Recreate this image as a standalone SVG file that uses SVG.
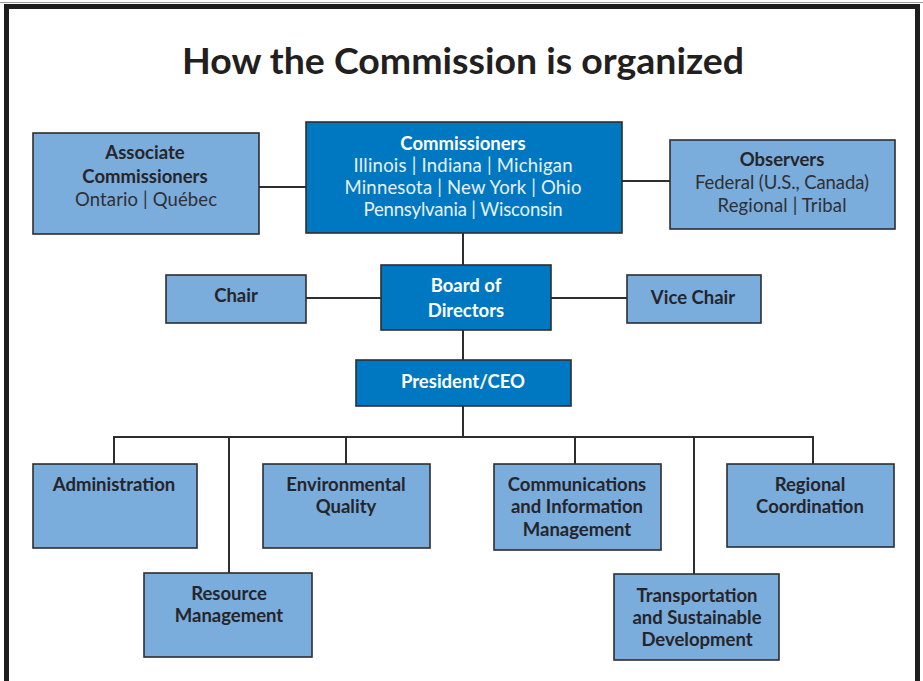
<svg xmlns="http://www.w3.org/2000/svg" width="923" height="681" viewBox="0 0 923 681">
<style>
.lt{fill:#7aacdc;stroke:#2e2e30;stroke-width:1.6}
.dk{fill:#0078c1;stroke:#2e2e30;stroke-width:1.6}
.b{font-family:Lato,"Open Sans",sans-serif;font-weight:bold;font-size:18.5px;fill:#26252a;text-anchor:middle}
.bw{font-family:Lato,"Open Sans",sans-serif;font-weight:bold;font-size:18.5px;fill:#ffffff;text-anchor:middle}
.r{font-family:Lato,"Open Sans",sans-serif;font-size:18.5px;fill:#2f3034;text-anchor:middle}
.rw{font-family:Lato,"Open Sans",sans-serif;font-size:18.5px;fill:#e6f1fa;text-anchor:middle}
.c{stroke:#2e2e30;stroke-width:2;fill:none}
</style>
<rect width="923" height="681" fill="#ffffff"/>
<path d="M6.5 690 V6.5 H917.5 V690" fill="none" stroke="#1e1e1e" stroke-width="5"/>
<line x1="0" y1="2.5" x2="923" y2="2.5" stroke="#9a9a9a" stroke-width="1"/>
<text x="463" y="74" font-family="Lato,'Open Sans',sans-serif" font-weight="bold" font-size="36" fill="#231f20" text-anchor="middle" textLength="562" lengthAdjust="spacingAndGlyphs">How the Commission is organized</text>
<g id="connectors">
<line class="c" x1="259" y1="187" x2="306" y2="187"/>
<line class="c" x1="622" y1="181" x2="670" y2="181"/>
<line class="c" x1="463" y1="233" x2="463" y2="265"/>
<line class="c" x1="306" y1="298" x2="381" y2="298"/>
<line class="c" x1="551" y1="298" x2="627" y2="298"/>
<line class="c" x1="463" y1="330" x2="463" y2="360"/>
<line class="c" x1="463" y1="406" x2="463" y2="437"/>
<polyline class="c" points="114,464 114,437 813,437 813,464"/>
<line class="c" x1="229" y1="437" x2="229" y2="573"/>
<line class="c" x1="346" y1="437" x2="346" y2="464"/>
<line class="c" x1="575" y1="437" x2="575" y2="464"/>
<line class="c" x1="694" y1="437" x2="694" y2="574"/>
</g>
<g id="assoc">
<rect class="lt" x="33" y="133" width="226" height="101"/>
<text class="b" x="145" y="159">Associate</text>
<text class="b" x="145" y="183">Commissioners</text>
<text class="r" x="146" y="206" textLength="142">Ontario | Québec</text>
</g>
<g id="commissioners">
<rect class="dk" x="306" y="122" width="316" height="111"/>
<text class="bw" x="463" y="150">Commissioners</text>
<text class="rw" x="463" y="172" textLength="219">Illinois | Indiana | Michigan</text>
<text class="rw" x="463" y="194" textLength="237">Minnesota | New York | Ohio</text>
<text class="rw" x="463" y="216" textLength="199">Pennsylvania | Wisconsin</text>
</g>
<g id="observers">
<rect class="lt" x="670" y="140" width="225" height="89"/>
<text class="b" x="782" y="166">Observers</text>
<text class="r" x="782" y="189" textLength="174">Federal (U.S., Canada)</text>
<text class="r" x="782" y="212" textLength="129">Regional | Tribal</text>
</g>
<g id="chair">
<rect class="lt" x="166" y="275" width="140" height="48"/>
<text class="b" x="236" y="302">Chair</text>
</g>
<g id="board">
<rect class="dk" x="381" y="265" width="170" height="65"/>
<text class="bw" x="466" y="292">Board of</text>
<text class="bw" x="466" y="317">Directors</text>
</g>
<g id="vicechair">
<rect class="lt" x="627" y="275" width="134" height="48"/>
<text class="b" x="693" y="304">Vice Chair</text>
</g>
<g id="president">
<rect class="dk" x="356" y="360" width="215" height="46"/>
<text class="bw" x="463" y="388">President/CEO</text>
</g>
<g id="administration">
<rect class="lt" x="33" y="464" width="164" height="84"/>
<text class="b" x="114" y="491">Administration</text>
</g>
<g id="resource">
<rect class="lt" x="144" y="573" width="168" height="84"/>
<text class="b" x="229" y="600">Resource</text>
<text class="b" x="229" y="622">Management</text>
</g>
<g id="environmental">
<rect class="lt" x="263" y="464" width="167" height="84"/>
<text class="b" x="346" y="491">Environmental</text>
<text class="b" x="346" y="513">Quality</text>
</g>
<g id="communications">
<rect class="lt" x="494" y="464" width="167" height="86"/>
<text class="b" x="577" y="491">Communications</text>
<text class="b" x="577" y="513">and Information</text>
<text class="b" x="577" y="536">Management</text>
</g>
<g id="transportation">
<rect class="lt" x="614" y="574" width="165" height="86"/>
<text class="b" x="697" y="602">Transportation</text>
<text class="b" x="697" y="624">and Sustainable</text>
<text class="b" x="697" y="646">Development</text>
</g>
<g id="regional">
<rect class="lt" x="727" y="464" width="167" height="83"/>
<text class="b" x="810" y="491">Regional</text>
<text class="b" x="810" y="513">Coordination</text>
</g>
</svg>
